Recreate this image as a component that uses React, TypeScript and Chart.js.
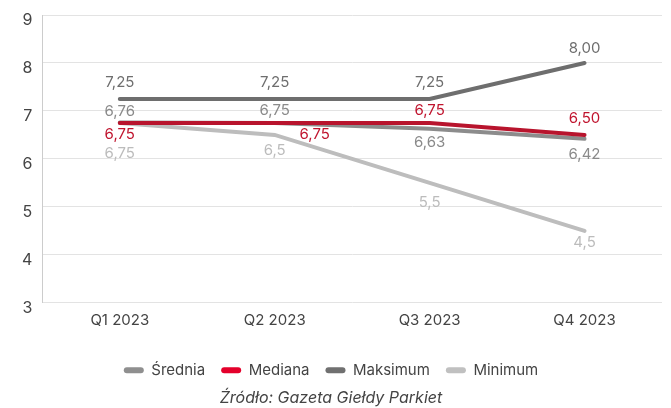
import React, { useEffect, useRef } from "react";
import { Chart, registerables } from "chart.js";

Chart.register(...registerables);

const categories = ["Q1 2023", "Q2 2023", "Q3 2023", "Q4 2023"];
const srednia = [6.76, 6.75, 6.63, 6.42];
const mediana = [6.75, 6.75, 6.75, 6.5];
const maksimum = [7.25, 7.25, 7.25, 8.0];
const minimum = [6.75, 6.5, 5.5, 4.5];
const seriesNames = ["Średnia", "Mediana", "Maksimum", "Minimum"];
const sourceText = "Źródło: Gazeta Giełdy Parkiet";

const FONT = "Inter, 'Noto Sans', sans-serif";

const fmt = (v: number, digits: number) => v.toFixed(digits).replace(".", ",");

const labelPlugin = {
  id: "valueLabels",
  afterDatasetsDraw(chart: any) {
    const ctx = chart.ctx;
    ctx.save();
    ctx.font = `15px ${FONT}`;
    ctx.textAlign = "center";
    ctx.textBaseline = "middle";
    chart.data.datasets.forEach((ds: any, i: number) => {
      const meta = chart.getDatasetMeta(i);
      ctx.fillStyle = ds.labelColor;
      meta.data.forEach((pt: any, j: number) => {
        const v = ds.data[j];
        const off = ds.labelOffsets[j];
        ctx.fillText(fmt(v, ds.labelDigits[j]), pt.x + off[0], pt.y + off[1]);
      });
    });
    ctx.restore();
  },
};

const shiftPlugin = {
  id: "shiftBottomBlocks",
  afterLayout(chart: any) {
    const dx = -6;
    if (chart.legend) {
      chart.legend.left += dx;
      chart.legend.right += dx;
    }
    if (chart.titleBlock) {
      chart.titleBlock.left += dx;
      chart.titleBlock.right += dx;
    }
  },
};

export default function App() {
  const ref = useRef<HTMLCanvasElement>(null);
  useEffect(() => {
    const chart = new Chart(ref.current!, {
      type: "line",
      data: {
        labels: categories,
        datasets: [
          {
            label: seriesNames[0],
            data: srednia,
            borderColor: "#8c8c8c",
            backgroundColor: "#8f8f8f",
            borderWidth: 4,
            pointRadius: 0,
            borderCapStyle: "round",
            order: 1,
            labelColor: "#8a8a8a",
            labelDigits: [2, 2, 2, 2],
            labelOffsets: [[0, -11], [0, -12], [0, 14], [0, 16]],
          } as any,
          {
            label: seriesNames[1],
            data: mediana,
            borderColor: "#b8142d",
            backgroundColor: "#e4002b",
            borderWidth: 4,
            pointRadius: 0,
            borderCapStyle: "round",
            order: 0,
            labelColor: "#c0142e",
            labelDigits: [2, 2, 2, 2],
            labelOffsets: [[0, 12], [40, 12], [0, -12], [0, -16]],
          } as any,
          {
            label: seriesNames[2],
            data: maksimum,
            borderColor: "#6e6e6e",
            backgroundColor: "#707070",
            borderWidth: 4,
            pointRadius: 0,
            borderCapStyle: "round",
            order: 2,
            labelColor: "#6e6e6e",
            labelDigits: [2, 2, 2, 2],
            labelOffsets: [[0, -16], [0, -16], [0, -16], [0, -14]],
          } as any,
          {
            label: seriesNames[3],
            data: minimum,
            borderColor: "#bdbdbd",
            backgroundColor: "#c0c0c0",
            borderWidth: 4,
            pointRadius: 0,
            borderCapStyle: "round",
            order: 3,
            labelColor: "#bcbcbc",
            labelDigits: [2, 1, 1, 1],
            labelOffsets: [[0, 31], [0, 16], [0, 20], [0, 12]],
          } as any,
        ],
      },
      options: {
        animation: false,
        responsive: false,
        layout: { padding: { top: 15, right: 9, left: 12, bottom: 0 } },
        scales: {
          x: {
            offset: true,
            grid: { display: false, drawTicks: false },
            border: { display: false },
            ticks: { color: "#444", font: { family: FONT, size: 15 }, padding: 9 },
            afterFit: (s: any) => {
              s.height += 8;
            },
          },
          y: {
            min: 3,
            max: 9,
            ticks: { stepSize: 1, color: "#444", font: { family: FONT, size: 16 }, padding: 10, labelOffset: 5 },
            grid: { color: "#e3e3e3", drawTicks: false, lineWidth: 1 },
            border: { display: true, color: "#cccccc" },
            afterFit: (s: any) => {
              s.paddingTop = 0;
              s.paddingBottom = 0;
            },
          },
        },
        plugins: {
          tooltip: { enabled: false },
          legend: {
            position: "bottom",
            labels: {
              boxWidth: 20,
              boxHeight: 6,
              useBorderRadius: true,
              borderRadius: 3,
              color: "#444",
              font: { family: FONT, size: 15 },
              padding: 16,
              generateLabels: (c: any) =>
                c.data.datasets.map((ds: any, i: number) => ({
                  text: ds.label,
                  fillStyle: ds.backgroundColor,
                  strokeStyle: ds.backgroundColor,
                  lineWidth: 0,
                  datasetIndex: i,
                  borderRadius: 3,
                  fontColor: "#444",
                })),
            },
          },
          title: {
            display: true,
            position: "bottom",
            text: sourceText,
            color: "#444",
            font: { family: FONT, size: 16, style: "italic", weight: "normal" },
            padding: { top: 1, bottom: 0 },
          },
        },
      } as any,
      plugins: [labelPlugin, shiftPlugin],
    });
    return () => chart.destroy();
  }, []);
  return (
    <div style={{ position: "fixed", left: 0, top: 0, width: 671, height: 408, background: "#fff" }}>
      <canvas ref={ref} width={671} height={408} style={{ display: "block" }} />
    </div>
  );
}
